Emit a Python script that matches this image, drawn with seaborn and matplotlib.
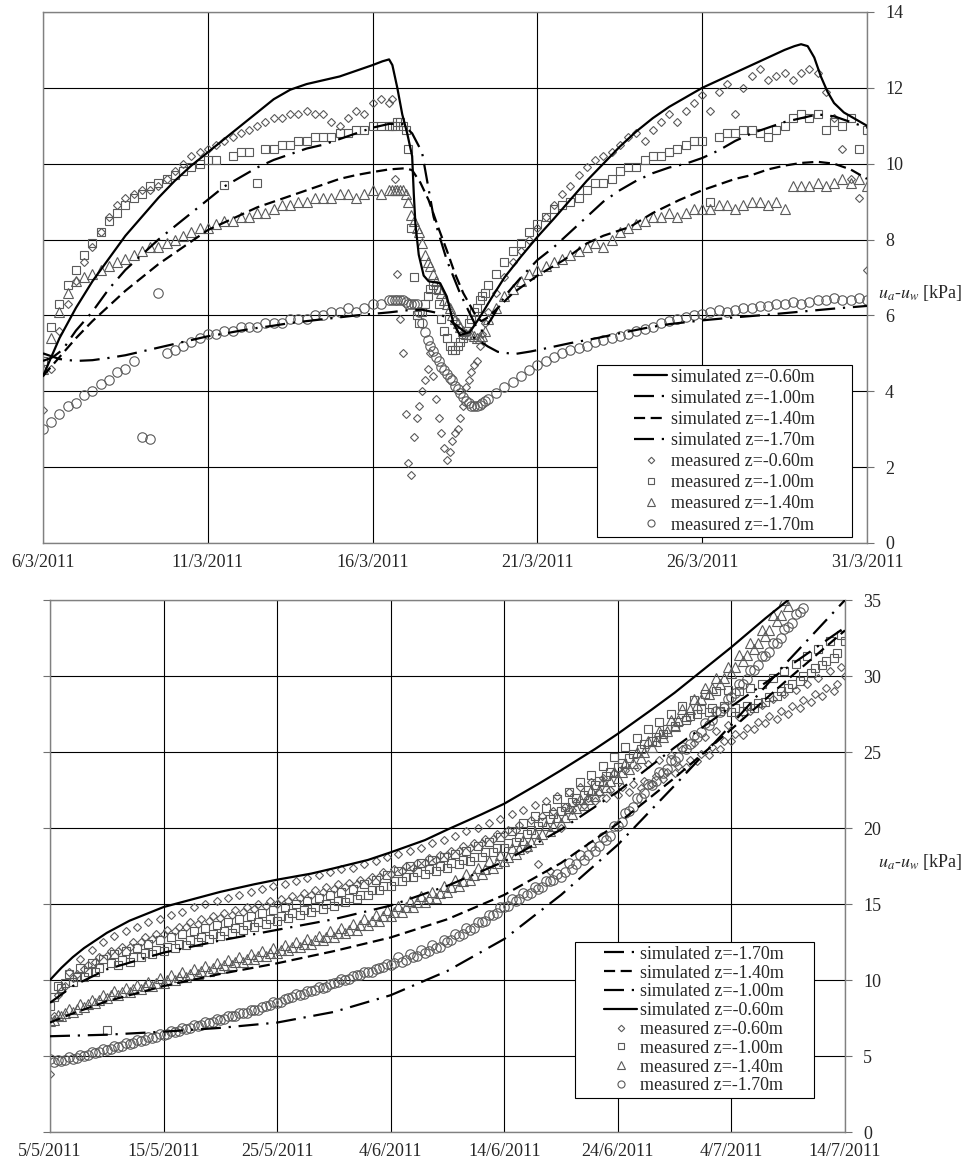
import numpy as np
import pandas as pd
import matplotlib
matplotlib.use("Agg")
import matplotlib.pyplot as plt
from matplotlib.patches import Rectangle
import seaborn as sns

nan = np.nan

# ---------------- top panel: March 2011 ----------------
# 6-hourly readings, 2-hourly around the drop of 16-19 March
top_times = pd.DatetimeIndex(
    list(pd.date_range("2011-03-06 00:00", "2011-03-16 12:00", freq="6h"))
    + list(pd.date_range("2011-03-16 14:00", "2011-03-19 12:00", freq="2h"))
    + list(pd.date_range("2011-03-19 18:00", "2011-03-31 00:00", freq="6h"))
)

top_m060 = [3.5, 4.6, 5.6, 6.3, 6.9, 7.4, 7.8, 8.2, 8.6, 8.9, 9.1, 9.2, 9.3, 9.3, 9.4,
            9.6, 9.8, 10.0, 10.2, 10.3, 10.4, 10.5, 10.6, 10.7, 10.8, 10.9, 11.0, 11.1, 11.2, 11.2,
            11.3, 11.3, 11.4, 11.3, 11.3, 11.1, 11.0, 11.2, 11.4, 11.3, 11.6, 11.7, 11.6,
            11.7, 9.6, 7.1, 5.9, 5.0, 3.4, 2.1, 1.8, 2.8, 3.3, 3.6, 4.0, 4.3, 4.6, 5.0,
            4.4, 3.8, 3.3, 2.9, 2.5, 2.2, 2.4, 2.7, 2.9, 3.0, 3.3, 3.6, 4.1, 4.3, 4.5,
            4.7, 4.8, 5.2, 5.5, 5.8, 6.1,
            6.6, 7.0, 7.4, 7.7, 8.0, 8.3, 8.6, 8.9, 9.2, 9.4, 9.7, 9.9, 10.1, 10.2, 10.3,
            10.5, 10.7, 10.8, 10.6, 10.9, 11.1, 11.3, 11.1, 11.4, 11.6, 11.8, 11.4, 11.9, 12.1, 11.3,
            12.0, 12.3, 12.5, 12.2, 12.3, 12.4, 12.2, 12.4, 12.5, 12.4, 11.9, 11.2, 10.4, 9.6, 9.1,
            7.2]
top_m100 = [4.8, 5.7, 6.3, 6.8, 7.2, 7.6, 7.9, 8.2, 8.5, 8.7, 8.9, 9.1, 9.2, 9.4, 9.5,
            9.6, 9.7, 9.8, 9.9, 10.0, 10.1, 10.1, 9.45, 10.2, 10.3, 10.3, 9.5, 10.4, 10.4, 10.5,
            10.5, 10.6, 10.6, 10.7, 10.7, 10.7, 10.8, 10.8, 10.9, 10.9, 11.0, 11.0, 11.0,
            11.0, 11.0, 11.1, 11.1, 11.0, 10.9, 10.4, 8.3, 7.0, 6.0, 5.8, 6.1, 6.3, 6.5, 6.7,
            6.8, 6.7, 6.3, 5.9, 5.6, 5.4, 5.2, 5.1, 5.1, 5.2, 5.3, 5.4, 5.6, 5.8, 5.9,
            6.1, 6.2, 6.4, 6.5, 6.6, 6.8,
            7.1, 7.4, 7.7, 7.9, 8.2, 8.4, 8.6, 8.8, 8.9, 9.0, 9.1, 9.3, 9.5, 9.5, 9.6,
            9.8, 9.9, 9.9, 10.1, 10.2, 10.2, 10.3, 10.4, 10.5, 10.6, 10.6, 9.0, 10.7, 10.8, 10.8,
            10.9, 10.9, 10.8, 10.7, 10.9, 11.0, 11.2, 11.3, 11.2, 11.3, 10.9, 11.1, 11.0, 11.2, 10.4,
            10.9]
top_m140 = [4.6, 5.4, 6.1, 6.6, 6.9, 7.0, 7.1, 7.2, 7.3, 7.4, 7.5, 7.6, 7.7, 7.8, 7.8,
            7.9, 8.0, 8.1, 8.2, 8.3, 8.3, 8.4, 8.5, 8.5, 8.6, 8.6, 8.7, 8.7, 8.8, 8.9,
            8.9, 9.0, 9.0, 9.1, 9.1, 9.1, 9.2, 9.2, 9.1, 9.2, 9.3, 9.2, 9.3,
            9.3, 9.3, 9.3, 9.3, 9.3, 9.2, 9.0, 8.65, 8.5, 8.3, 8.2, 7.9, 7.6, 7.4, 7.3,
            7.1, 6.9, 6.7, 6.6, 6.4, 6.3, 6.2, 6.0, 5.9, 5.8, 5.7, 5.6, 5.5, 5.5, 5.5,
            5.45, 5.4, 5.4, 5.45, 5.6, 5.9,
            6.2, 6.5, 6.7, 6.9, 7.1, 7.2, 7.3, 7.4, 7.5, 7.6, 7.7, 7.8, 7.9, 7.8, 8.0,
            8.2, 8.3, 8.4, 8.5, 8.6, 8.6, 8.7, 8.6, 8.7, 8.8, 8.8, 8.8, 8.9, 8.9, 8.8,
            8.9, 9.0, 9.0, 8.9, 9.0, 8.8, 9.4, 9.4, 9.4, 9.5, 9.4, 9.5, 9.6, 9.5, 9.6,
            9.4]
top_m170 = [3.0, 3.2, 3.4, 3.6, 3.7, 3.9, 4.0, 4.2, 4.3, 4.5, 4.6, 4.8, 2.8, 2.75, 6.6,
            5.0, 5.1, 5.2, 5.3, 5.4, 5.5, 5.5, 5.6, 5.6, 5.7, 5.7, 5.7, 5.8, 5.8, 5.8,
            5.9, 5.9, 5.9, 6.0, 6.0, 6.1, 6.1, 6.2, 6.1, 6.2, 6.3, 6.3, 6.4,
            6.4, 6.4, 6.4, 6.4, 6.4, 6.35, 6.3, 6.3, 6.3, 6.3, 6.1, 5.8, 5.55, 5.35, 5.2,
            5.05, 4.9, 4.8, 4.65, 4.55, 4.45, 4.35, 4.3, 4.15, 4.05, 3.95, 3.85, 3.75, 3.7, 3.6,
            3.6, 3.6, 3.65, 3.7, 3.75, 3.8,
            3.95, 4.1, 4.25, 4.4, 4.55, 4.7, 4.8, 4.9, 5.0, 5.1, 5.15, 5.2, 5.3, 5.35, 5.4,
            5.45, 5.5, 5.6, 5.65, 5.7, 5.8, 5.85, 5.9, 5.95, 6.0, 6.05, 6.1, 6.15, 6.1, 6.15,
            6.2, 6.2, 6.25, 6.25, 6.3, 6.3, 6.35, 6.3, 6.35, 6.4, 6.4, 6.45, 6.4, 6.4, 6.45,
            6.4]

# simulated curves: day of March -> suction (kPa)
top_s060_day = [6.0, 6.5, 7.0, 7.5, 8.0, 8.5, 9.0, 9.5, 10.0, 10.5, 11.0, 11.5, 12.0, 12.5, 13.0,
                13.5, 14.0, 14.5, 15.0, 15.5, 16.0, 16.3, 16.5, 16.6, 16.75, 16.9, 17.05, 17.2, 17.25, 17.3,
                17.4, 17.55, 17.7, 18.05, 18.25, 18.45, 18.65, 18.95, 19.26, 19.6, 20.0, 20.5, 21.0, 21.5, 22.0,
                22.5, 23.0, 23.5, 24.0, 24.5, 25.0, 25.5, 26.0, 26.5, 27.0, 27.5, 28.0, 28.5, 28.8, 29.0,
                29.2, 29.4, 29.6, 29.8, 30.0, 30.3, 30.6, 31.0]
top_s060 = [4.4, 5.4, 6.2, 6.9, 7.5, 8.1, 8.6, 9.1, 9.55, 9.95, 10.3, 10.65, 11.0, 11.35, 11.7,
            11.95, 12.1, 12.2, 12.3, 12.45, 12.6, 12.7, 12.75, 12.6, 12.0, 11.3, 10.8, 10.2, 9.2, 8.4,
            7.6, 7.05, 6.9, 6.85, 6.5, 5.8, 5.48, 5.56, 5.96, 6.45, 7.0, 7.55, 8.07, 8.55, 9.05,
            9.55, 10.0, 10.45, 10.85, 11.2, 11.5, 11.75, 12.0, 12.2, 12.4, 12.6, 12.8, 13.0, 13.1, 13.15,
            13.1, 12.8, 12.3, 11.9, 11.6, 11.35, 11.2, 11.0]
top_s100_day = [6.0, 6.3, 6.6, 7.0, 7.5, 8.0, 8.5, 9.0, 9.5, 10.0, 10.5, 11.0, 11.5, 12.0, 12.5,
                13.0, 13.5, 14.0, 14.5, 15.0, 15.5, 16.0, 16.5, 16.9, 17.2, 17.5, 17.85, 18.25, 18.65, 19.0,
                19.2, 19.35, 19.6, 20.0, 20.5, 21.0, 21.5, 22.0, 22.5, 23.0, 23.5, 24.0, 24.5, 25.0, 25.5,
                26.0, 26.5, 27.0, 27.5, 28.0, 28.5, 29.0, 29.5, 30.0, 30.5, 31.0]
top_s100 = [4.8, 4.9, 5.1, 5.6, 6.1, 6.7, 7.2, 7.6, 8.0, 8.35, 8.7, 9.05, 9.4, 9.65, 9.9,
            10.1, 10.25, 10.4, 10.5, 10.65, 10.8, 10.95, 11.05, 11.05, 10.8, 10.3, 8.6, 7.46, 6.59, 5.96,
            5.6, 5.6, 5.9, 6.5, 7.0, 7.46, 7.8, 8.2, 8.6, 9.0, 9.3, 9.55, 9.75, 9.9, 10.0,
            10.15, 10.35, 10.6, 10.8, 10.95, 11.1, 11.2, 11.3, 11.25, 11.1, 10.95]
top_s140_day = [6.0, 6.5, 7.0, 7.5, 8.0, 8.5, 9.0, 9.5, 10.0, 10.5, 11.0, 11.5, 12.0, 12.5, 13.0,
                13.5, 14.0, 14.5, 15.0, 15.5, 16.0, 16.5, 17.0, 17.2, 17.45, 17.7, 18.0, 18.25, 18.5, 18.75,
                19.0, 19.15, 19.3, 19.5, 19.8, 20.26, 21.0, 21.8, 22.5, 23.0, 23.8, 24.5, 25.3, 26.0, 26.5,
                27.0, 27.5, 28.0, 28.5, 29.0, 29.5, 30.0, 30.5, 31.0]
top_s140 = [4.4, 4.9, 5.4, 5.85, 6.25, 6.65, 7.0, 7.35, 7.65, 7.95, 8.25, 8.45, 8.65, 8.85, 9.0,
            9.15, 9.3, 9.45, 9.6, 9.7, 9.78, 9.85, 9.88, 9.83, 9.5, 9.04, 8.3, 7.72, 7.1, 6.59,
            6.2, 5.96, 5.85, 5.95, 6.2, 6.59, 7.05, 7.46, 7.9, 8.1, 8.33, 8.7, 9.04, 9.3, 9.45,
            9.6, 9.7, 9.85, 9.95, 10.02, 10.05, 10.0, 9.85, 9.6]
top_s170_day = [6.0, 6.5, 7.0, 7.5, 8.0, 8.5, 9.0, 9.5, 10.0, 10.5, 11.0, 11.5, 12.0, 12.5, 13.0,
                13.5, 14.0, 14.5, 15.0, 15.5, 16.0, 16.5, 17.1, 17.5, 18.0, 18.3, 18.6, 18.9, 19.2, 19.5,
                19.8, 20.3, 20.8, 21.3, 22.0, 22.8, 23.5, 24.3, 25.0, 26.0, 27.0, 28.0, 29.0, 30.0, 31.0]
top_s170 = [5.0, 4.85, 4.8, 4.82, 4.88, 4.95, 5.05, 5.15, 5.25, 5.35, 5.45, 5.52, 5.6, 5.67, 5.73,
            5.8, 5.85, 5.9, 5.95, 6.0, 6.04, 6.08, 6.14, 6.15, 6.06, 5.9, 5.7, 5.5, 5.35, 5.18,
            5.04, 4.98, 5.05, 5.14, 5.27, 5.4, 5.53, 5.67, 5.77, 5.87, 5.95, 6.02, 6.1, 6.18, 6.25]

top_ticks = ["2011-03-06", "2011-03-11", "2011-03-16", "2011-03-21", "2011-03-26", "2011-03-31"]
top_ticklabels = ["6/3/2011", "11/3/2011", "16/3/2011", "21/3/2011", "26/3/2011", "31/3/2011"]

# ---------------- bottom panel: May - July 2011 ----------------
# readings every 8 hours (00, 08, 16 h), one row = 5 days
bot_times = pd.date_range("2011-05-05 00:00", "2011-07-14 00:00", freq="8h")

bot_m060 = [3.8, 7.6, 9.0, 9.3, 9.6, 10.5, 10.1, 10.4, 11.4, 10.7, 11.0, 12.0, 11.2, 11.5, 12.5,
            11.6, 11.9, 12.9, 11.9, 12.2, 13.2, 12.2, 12.5, 13.5, 12.5, 12.8, 13.8, 12.7, 13.0, 14.0,
            13.0, 13.3, 14.3, 13.2, 13.5, 14.5, 13.5, 13.8, 14.8, 13.7, 14.0, 15.0, 13.9, 14.2, 15.2,
            14.1, 14.4, 15.4, 14.3, 14.6, 15.6, 14.5, 14.8, 15.8, 14.7, 15.0, 16.0, 14.9, 15.2, 16.2,
            15.0, 15.3, 16.3, 15.2, 15.5, 16.5, 15.4, 15.7, 16.7, 15.6, 15.9, 16.9, 15.8, 16.1, 17.1,
            16.0, 16.3, 17.3, 16.1, 16.4, 17.4, 16.3, 16.6, 17.6, 16.5, 16.8, 17.8, 16.8, 17.1, 18.1,
            17.0, 17.3, 18.3, 17.2, 17.5, 18.5, 17.4, 17.7, 18.7, 17.7, 18.0, 19.0, 17.9, 18.2, 19.2,
            18.2, 18.5, 19.5, 18.5, 18.8, 19.8, 18.7, 19.0, 20.0, 19.0, 19.3, 20.3, 19.3, 19.6, 20.6,
            19.6, 19.9, 20.9, 19.9, 20.2, 21.2, 18.6, 20.5, 21.5, 17.6, 20.8, 21.8, 17.2, 21.1, 22.1,
            20.0, 21.4, 22.4, 21.2, 21.7, 22.7, 21.5, 22.0, 23.0, 21.8, 22.3, 23.3, 22.0, 22.5, 23.6,
            22.2, 22.7, 23.8, 22.4, 22.9, 24.0, 22.6, 23.1, 24.2, 22.9, 23.4, 24.5, 23.2, 23.7, 24.8,
            23.6, 24.1, 25.2, 24.0, 24.5, 25.6, 24.4, 24.9, 26.0, 24.8, 25.3, 26.4, 25.2, 25.7, 26.8,
            25.7, 26.2, 27.3, 26.1, 26.6, 27.7, 26.5, 27.0, 28.1, 26.9, 27.4, 28.5, 27.2, 27.7, 28.8,
            27.5, 28.0, 29.1, 27.9, 28.4, 29.5, 28.3, 28.8, 29.9, 28.7, 29.2, 30.3, 29.0, 29.5, 30.6,
            30.0]
bot_m100 = [8.3, 8.9, 9.6, 9.5, 9.8, 10.4, 9.9, 10.2, 10.8, 10.2, 10.5, 11.1, 10.5, 10.8, 11.4,
            6.7, 11.1, 11.7, 11.0, 11.3, 11.9, 11.2, 11.5, 12.1, 11.5, 11.8, 12.4, 11.7, 12.0, 12.6,
            11.9, 12.2, 12.8, 12.1, 12.4, 13.0, 12.3, 12.6, 13.2, 12.5, 12.8, 13.4, 12.7, 13.0, 13.6,
            12.9, 13.2, 13.8, 13.1, 13.4, 14.0, 13.3, 13.6, 14.2, 13.5, 13.8, 14.4, 13.7, 14.0, 14.6,
            13.9, 14.2, 14.8, 14.1, 14.4, 15.0, 14.3, 14.6, 15.2, 14.5, 14.8, 15.4, 14.7, 15.0, 15.6,
            14.9, 15.2, 15.8, 15.1, 15.4, 16.0, 15.3, 15.6, 16.3, 15.6, 15.9, 16.6, 15.9, 16.2, 16.9,
            16.2, 16.5, 17.2, 16.5, 16.8, 17.5, 16.8, 17.1, 17.7, 17.0, 17.3, 17.9, 17.2, 17.5, 18.1,
            17.4, 17.7, 18.3, 17.6, 17.9, 18.5, 17.8, 18.1, 18.8, 18.1, 18.4, 19.1, 18.4, 18.7, 19.4,
            18.7, 19.0, 19.8, 19.1, 19.4, 20.3, 19.6, 19.9, 20.8, 20.1, 20.4, 21.3, 20.6, 20.9, 21.9,
            21.1, 21.4, 22.4, 21.7, 22.0, 23.0, 22.2, 22.5, 23.5, 22.8, 23.1, 24.1, 23.4, 23.7, 24.7,
            24.0, 24.3, 25.3, 24.6, 24.9, 25.9, 25.2, 25.5, 26.5, 25.7, 26.0, 27.0, 26.2, 26.5, 27.5,
            26.7, 27.0, 28.0, 27.1, 27.4, 28.4, 27.5, 27.8, 28.8, 27.6, 27.9, 29.0, 27.7, 28.0, 29.1,
            27.6, 27.9, 29.0, 27.7, 28.0, 29.2, 27.9, 28.2, 29.5, 28.3, 28.6, 29.9, 28.7, 29.0, 30.3,
            29.2, 29.5, 30.8, 29.7, 30.0, 31.3, 30.2, 30.5, 31.8, 30.7, 31.0, 32.3, 31.2, 31.5, 32.7,
            32.3]
bot_m140 = [7.3, 7.4, 7.7, 7.6, 7.8, 8.1, 7.9, 8.1, 8.4, 8.2, 8.4, 8.7, 8.5, 8.7, 9.0,
            8.8, 9.0, 9.3, 9.0, 9.2, 9.5, 9.2, 9.4, 9.7, 9.4, 9.6, 9.9, 9.6, 9.8, 10.1,
            9.8, 10.0, 10.3, 10.0, 10.2, 10.5, 10.2, 10.4, 10.7, 10.4, 10.6, 10.9, 10.6, 10.8, 11.1,
            10.8, 11.0, 11.3, 11.0, 11.2, 11.5, 11.2, 11.4, 11.7, 11.4, 11.6, 11.9, 11.6, 11.8, 12.1,
            11.8, 12.0, 12.3, 12.0, 12.2, 12.5, 12.2, 12.4, 12.7, 12.4, 12.6, 12.9, 12.6, 12.8, 13.2,
            12.8, 13.1, 13.4, 13.1, 13.3, 13.7, 13.3, 13.6, 14.0, 13.6, 13.9, 14.3, 13.9, 14.2, 14.6,
            14.2, 14.5, 14.9, 14.5, 14.8, 15.2, 14.8, 15.1, 15.5, 15.1, 15.4, 15.8, 15.4, 15.7, 16.2,
            15.8, 16.1, 16.6, 16.2, 16.5, 17.0, 16.6, 16.9, 17.4, 17.0, 17.3, 17.8, 17.4, 17.7, 18.2,
            17.8, 18.1, 18.7, 18.3, 18.6, 19.2, 18.8, 19.1, 19.7, 19.3, 19.6, 20.2, 19.8, 20.1, 20.7,
            20.3, 20.7, 21.3, 20.9, 21.3, 21.9, 21.5, 21.9, 22.5, 22.1, 22.5, 23.1, 22.7, 23.1, 23.7,
            23.3, 23.7, 24.3, 23.9, 24.3, 25.0, 24.6, 25.0, 25.7, 25.3, 25.7, 26.4, 26.0, 26.4, 27.1,
            26.7, 27.1, 27.8, 27.4, 27.8, 28.5, 28.1, 28.5, 29.2, 28.8, 29.2, 29.9, 29.5, 29.9, 30.6,
            30.2, 30.6, 31.4, 31.0, 31.4, 32.2, 31.8, 32.2, 33.0, 32.6, 33.0, 34.0, 33.6, 34.0, 35.0,
            34.6, nan, nan, nan, nan, nan, nan, nan, nan, nan, nan, nan, nan, nan, nan,
            nan]
bot_m170 = [4.8, 4.6, 4.75, 4.7, 4.75, 4.95, 4.8, 4.85, 5.05, 5.0, 5.05, 5.25, 5.2, 5.25, 5.45,
            5.4, 5.45, 5.65, 5.6, 5.65, 5.85, 5.8, 5.85, 6.05, 6.0, 6.05, 6.25, 6.2, 6.25, 6.45,
            6.4, 6.45, 6.65, 6.6, 6.65, 6.85, 6.8, 6.85, 7.05, 7.0, 7.05, 7.25, 7.2, 7.25, 7.45,
            7.4, 7.45, 7.65, 7.6, 7.65, 7.85, 7.8, 7.85, 8.05, 8.0, 8.05, 8.25, 8.3, 8.35, 8.55,
            8.5, 8.55, 8.75, 8.8, 8.85, 9.05, 9.0, 9.05, 9.25, 9.3, 9.35, 9.55, 9.5, 9.55, 9.75,
            9.8, 9.85, 10.05, 10.0, 10.05, 10.25, 10.3, 10.35, 10.55, 10.5, 10.55, 10.75, 10.8, 10.85, 11.05,
            11.0, 11.1, 11.5, 11.2, 11.3, 11.7, 11.5, 11.6, 12.0, 11.8, 11.9, 12.3, 12.1, 12.2, 12.6,
            12.5, 12.6, 13.0, 12.9, 13.0, 13.4, 13.3, 13.4, 13.8, 13.8, 13.9, 14.3, 14.3, 14.4, 14.8,
            14.8, 14.9, 15.3, 15.2, 15.3, 15.7, 15.6, 15.7, 16.1, 16.0, 16.1, 16.5, 16.5, 16.6, 17.0,
            16.8, 17.1, 17.7, 17.3, 17.6, 18.2, 17.9, 18.2, 18.8, 18.5, 18.8, 19.4, 19.2, 19.5, 20.1,
            20.1, 20.4, 21.0, 21.1, 21.4, 22.0, 22.0, 22.3, 22.9, 22.8, 23.1, 23.7, 23.6, 23.9, 24.5,
            24.4, 24.7, 25.3, 25.2, 25.5, 26.1, 26.0, 26.3, 26.9, 26.8, 27.1, 27.7, 27.6, 27.9, 28.5,
            28.6, 28.9, 29.5, 29.5, 29.8, 30.4, 30.4, 30.7, 31.3, 31.3, 31.6, 32.2, 32.2, 32.5, 33.1,
            33.2, 33.5, 34.1, 34.2, 34.5, nan, nan, nan, nan, nan, nan, nan, nan, nan, nan,
            nan]

# simulated curves: days after 5 May -> suction (kPa)
bot_s060_day = [0, 1, 2, 3, 5, 7, 10, 13, 15, 18, 20, 23, 25, 28, 30, 33, 35, 38, 40, 43,
                45, 48, 50, 53, 55, 58, 60, 63, 65]
bot_s060 = [10.0, 10.8, 11.5, 12.1, 13.1, 13.9, 14.8, 15.4, 15.8, 16.3, 16.6, 17.0, 17.35, 17.9, 18.4,
            19.2, 19.9, 20.9, 21.6, 22.9, 23.8, 25.2, 26.2, 27.8, 28.9, 30.7, 31.9, 33.8, 35.0]
bot_s100_day = [0, 2, 5, 10, 15, 20, 25, 30, 35, 40, 45, 50, 55, 60, 65, 70]
bot_s100 = [8.5, 9.6, 10.7, 11.8, 12.6, 13.3, 14.0, 14.9, 16.2, 17.8, 19.9, 22.4, 25.3, 28.0, 30.6, 33.2]
bot_s140_day = [0, 2, 5, 10, 15, 20, 25, 30, 35, 40, 45, 50, 55, 60, 65, 70]
bot_s140 = [7.2, 7.8, 8.6, 9.6, 10.4, 11.1, 11.9, 12.8, 14.0, 15.6, 17.7, 20.3, 23.3, 26.5, 29.8, 33.0]
bot_s170_day = [0, 5, 10, 15, 20, 25, 30, 35, 40, 45, 50, 55, 60, 65, 70]
bot_s170 = [6.3, 6.4, 6.6, 6.85, 7.2, 7.9, 9.0, 10.6, 12.7, 15.6, 18.9, 22.8, 26.8, 31.0, 35.0]

bot_ticks = ["2011-05-05", "2011-05-15", "2011-05-25", "2011-06-04", "2011-06-14",
             "2011-06-24", "2011-07-04", "2011-07-14"]
bot_ticklabels = ["5/5/2011", "15/5/2011", "25/5/2011", "4/6/2011", "14/6/2011",
                  "24/6/2011", "4/7/2011", "14/7/2011"]

# ---------------- styling ----------------
sns.set_theme(style="white")
plt.rcParams["font.family"] = ["Liberation Serif", "DejaVu Serif"]
plt.rcParams["mathtext.fontset"] = "stix"
FS = 13

line_styles = {
    "0.60": "-",
    "1.00": (0, (9, 3.5, 1, 3.5)),
    "1.40": (0, (5, 2.5)),
    "1.70": (0, (9, 3.5, 1, 3.5)),
}
marker_styles = {"0.60": ("D", 4.4), "1.00": ("s", 6.2), "1.40": ("^", 6.8), "1.70": ("o", 6.8)}


def to_dates(start, days):
    return pd.Timestamp(start) + pd.to_timedelta(np.asarray(days, dtype=float), unit="D")


def draw_panel(ax, times, measured, sims, xlim, ticks, ticklabels, ymax, ystep):
    for depth, vals in measured.items():
        mk, ms = marker_styles[depth]
        sns.lineplot(x=times, y=np.asarray(vals, dtype=float), ax=ax, estimator=None, sort=False,
                     linestyle="", marker=mk, markersize=ms, markerfacecolor="none",
                     markeredgecolor="#5a5a5a", markeredgewidth=0.8, color="#5a5a5a",
                     label=f"measured z=-{depth}m", zorder=2)
    for depth, (t, vals) in sims.items():
        sns.lineplot(x=t, y=vals, ax=ax, estimator=None, sort=False, color="black",
                     linewidth=1.6, linestyle=line_styles[depth],
                     label=f"simulated z=-{depth}m", zorder=3)
    ax.set_xlim(pd.Timestamp(xlim[0]), pd.Timestamp(xlim[1]))
    ax.set_ylim(0, ymax)
    ax.set_xticks(pd.to_datetime(ticks))
    ax.set_xticklabels(ticklabels, fontsize=FS)
    ax.set_yticks(np.arange(0, ymax + 0.1, ystep))
    ax.set_yticklabels([f"{v:g}" for v in np.arange(0, ymax + 0.1, ystep)], fontsize=FS)
    ax.yaxis.tick_right()
    ax.tick_params(axis="y", which="both", right=True, left=False, direction="out",
                   length=5, width=0.8, color="#707070", pad=8)
    ax.tick_params(axis="x", length=0, pad=8)
    ax.grid(True, color="black", linewidth=0.8)
    ax.set_axisbelow(True)
    for sp in ax.spines.values():
        sp.set_color("#808080")
        sp.set_linewidth(1.0)
    ax.set_xlabel("")
    ax.set_ylabel("")


fig = plt.figure(figsize=(9.66, 11.64), dpi=100)
ax1 = fig.add_axes([0.04451, 0.53351, 0.85300, 0.45619])
ax2 = fig.add_axes([0.05176, 0.02749, 0.82298, 0.45704])

draw_panel(
    ax1, top_times,
    {"0.60": top_m060, "1.00": top_m100, "1.40": top_m140, "1.70": top_m170},
    {"0.60": (to_dates("2011-03-01", np.array(top_s060_day) - 1), top_s060),
     "1.00": (to_dates("2011-03-01", np.array(top_s100_day) - 1), top_s100),
     "1.40": (to_dates("2011-03-01", np.array(top_s140_day) - 1), top_s140),
     "1.70": (to_dates("2011-03-01", np.array(top_s170_day) - 1), top_s170)},
    ("2011-03-06", "2011-03-31"), top_ticks, top_ticklabels, 14, 2)

draw_panel(
    ax2, bot_times,
    {"0.60": bot_m060, "1.00": bot_m100, "1.40": bot_m140, "1.70": bot_m170},
    {"1.70": (to_dates("2011-05-05", bot_s170_day), bot_s170),
     "1.40": (to_dates("2011-05-05", bot_s140_day), bot_s140),
     "1.00": (to_dates("2011-05-05", bot_s100_day), bot_s100),
     "0.60": (to_dates("2011-05-05", bot_s060_day), bot_s060)},
    ("2011-05-05", "2011-07-14"), bot_ticks, bot_ticklabels, 35, 5)
ax2.tick_params(axis="y", left=True, direction="out", length=5)

top_order = ["simulated z=-0.60m", "simulated z=-1.00m", "simulated z=-1.40m", "simulated z=-1.70m",
             "measured z=-0.60m", "measured z=-1.00m", "measured z=-1.40m", "measured z=-1.70m"]
bot_order = ["simulated z=-1.70m", "simulated z=-1.40m", "simulated z=-1.00m", "simulated z=-0.60m",
             "measured z=-0.60m", "measured z=-1.00m", "measured z=-1.40m", "measured z=-1.70m"]


def boxed_legend(ax, order, box, spacing):
    h, l = ax.get_legend_handles_labels()
    lut = dict(zip(l, h))
    x0, y0, x1, y1 = box
    ax.add_patch(Rectangle((x0, y0), x1 - x0, y1 - y0, transform=ax.transAxes,
                           facecolor="white", edgecolor="black", linewidth=0.8, zorder=4))
    leg = ax.legend([lut[k] for k in order], order, loc="center",
                    bbox_to_anchor=((x0 + x1) / 2, (y0 + y1) / 2), frameon=False,
                    fontsize=FS, handlelength=1.8, handletextpad=0.2, labelspacing=spacing,
                    borderpad=0.0, markerscale=0.75)
    leg.set_zorder(5)


boxed_legend(ax1, top_order, (0.672, 0.0113, 0.982, 0.335), 0.23)
boxed_legend(ax2, bot_order, (0.660, 0.064, 0.961, 0.357), 0.1)

ylab = r"$u_a$-$u_w$ [kPa]"
ax1.text(1.064, 0.471, ylab, transform=ax1.transAxes, ha="center", va="center", fontsize=FS)
ax2.text(1.094, 0.5075, ylab, transform=ax2.transAxes, ha="center", va="center", fontsize=FS)

fig.savefig("out.png", dpi=100)
